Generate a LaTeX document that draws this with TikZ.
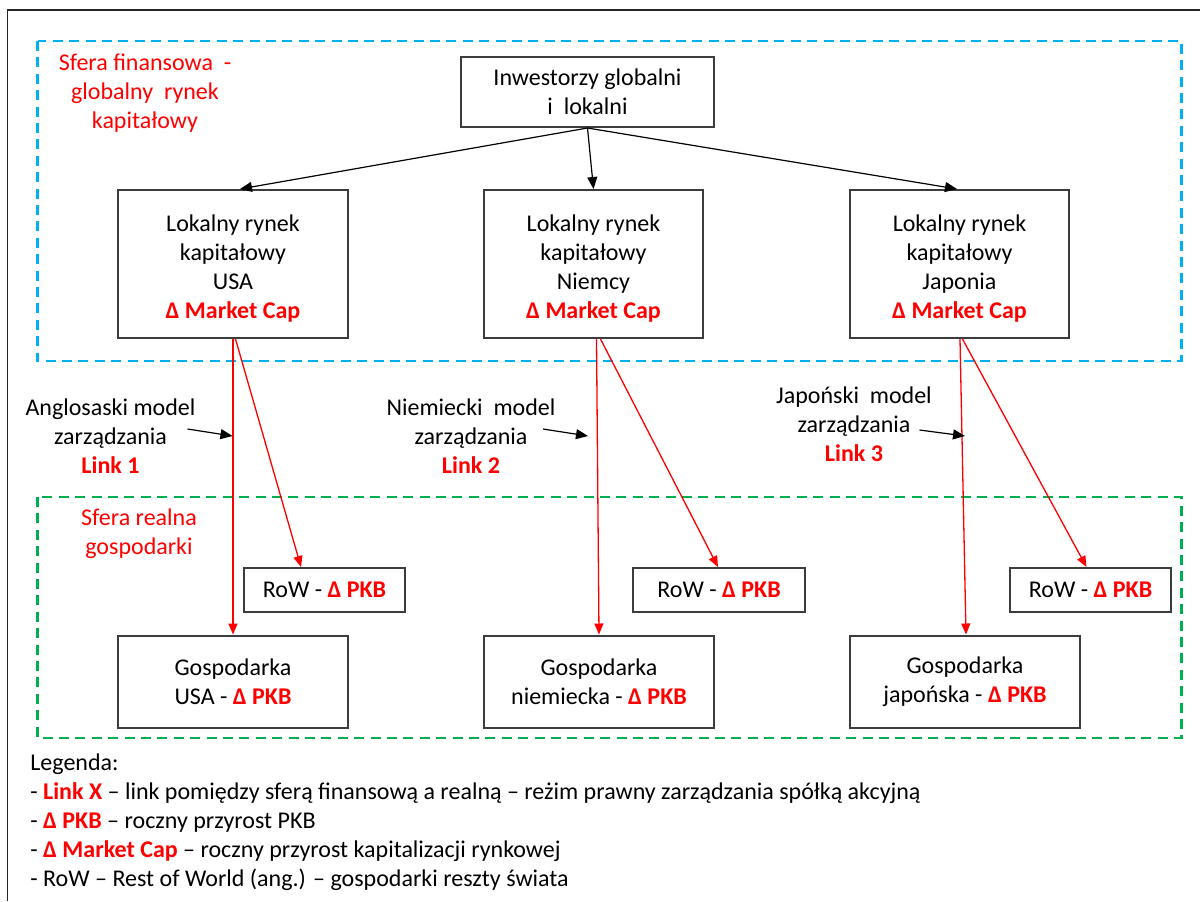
\documentclass[tikz,border=0pt]{standalone}
\usepackage{fontspec}
\setmainfont{Carlito}
\usetikzlibrary{arrows.meta,calc}
\definecolor{rd}{RGB}{255,0,0}
\definecolor{bl}{RGB}{0,176,240}
\definecolor{gr}{RGB}{0,176,80}
\definecolor{bx}{RGB}{60,60,60}
\newcommand{\rb}[1]{\textcolor{rd}{\bfseries #1}}
\newcommand{\topst}{\rule{0pt}{12.4pt}}
\begin{document}
\begin{tikzpicture}[x=0.5pt,y=-0.5pt,
  every node/.style={font=\fontsize{12}{14.5}\selectfont, inner sep=0pt},
  box/.style={draw=bx, line width=1pt, align=center, fill=white},
  lbl/.style={align=center},
  redlbl/.style={align=center, text=rd},
  blarr/.style={-{Triangle[length=6pt,width=5pt]}, line width=0.6pt, black},
  redarr/.style={-{Triangle[length=5.5pt,width=4.5pt]}, line width=0.65pt, rd},
  zone/.style={line width=1.3pt, dash pattern=on 5pt off 3.2pt}]
\useasboundingbox (0,0) rectangle (1200,901);
% outer frame
\draw[line width=0.8pt, black!85] (7.5,901) -- (7.5,10) -- (1200,10);
% zones
\draw[zone, bl] (37.5,41) rectangle (1181.5,361);
\draw[zone, gr] (37.5,497) rectangle (1181.5,738);
\node[redlbl] (sfin) at (145,93) {Sfera finansowa~ -\\globalny~ rynek\\kapitałowy};
\node[redlbl] (sreal) at (139,534) {Sfera realna\\gospodarki};
% boxes
\node[box, minimum width=126.5pt, minimum height=35pt] (inv) at (587.5,92) {Inwestorzy globalni\\i~ lokalni};
\node[box, minimum width=115pt, minimum height=74pt] (usa) at (233,264) {\topst Lokalny rynek\\kapitałowy\\USA\\\rb{Δ Market Cap}};
\node[box, minimum width=109.5pt, minimum height=74pt] (nie) at (593.5,264) {\topst Lokalny rynek\\kapitałowy\\Niemcy\\\rb{Δ Market Cap}};
\node[box, minimum width=109.5pt, minimum height=74pt] (jap) at (959.5,264) {\topst Lokalny rynek\\kapitałowy\\Japonia\\\rb{Δ Market Cap}};
\node[box, minimum width=80.5pt, minimum height=22pt] (rowU) at (324.5,590) {RoW - \rb{Δ PKB}};
\node[box, minimum width=86pt, minimum height=22pt] (rowN) at (719,590) {RoW - \rb{Δ PKB}};
\node[box, minimum width=80.5pt, minimum height=22pt] (rowJ) at (1090.5,590) {RoW - \rb{Δ PKB}};
\node[box, minimum width=115pt, minimum height=46pt] (gU) at (233,681.5) {Gospodarka\\USA - \rb{Δ PKB}};
\node[box, minimum width=115pt, minimum height=46pt] (gN) at (599,681.5) {Gospodarka\\niemiecka - \rb{Δ PKB}};
\node[box, minimum width=115pt, minimum height=46pt] (gJ) at (965,681.5) {Gospodarka\\japońska - \rb{Δ PKB}};
% top arrows
\draw[blarr] (inv.south) -- ($(usa.north)+(7,0)$);
\draw[blarr] (inv.south) -- (nie.north);
\draw[blarr] (inv.south) -- ($(jap.north)+(-2.5,0)$);
% red arrows
\draw[redarr] (usa.south) -- (gU.north);
\draw[redarr] ($(usa.south)+(2.5,0)$) -- ($(rowU.north)+(-23.5,0)$);
\draw[redarr] ($(nie.south)+(3,0)$) -- (gN.north);
\draw[redarr] ($(nie.south)+(7,0)$) -- ($(rowN.north)+(-1,0)$);
\draw[redarr] ($(jap.south)+(0.5,0)$) -- ($(gJ.north)+(1,0)$);
\draw[redarr] ($(jap.south)+(3,0)$) -- ($(rowJ.north)+(-4,0)$);
% link labels
\node[lbl] (l1) at (110.5,436) {Anglosaski model\\zarządzania\\\rb{Link 1}};
\node[lbl] (l2) at (471,436) {Niemiecki~ model\\zarządzania\\\rb{Link 2}};
\node[lbl] (l3) at (854,424) {Japoński~ model\\zarządzania\\\rb{Link 3}};
\coordinate (a1s) at (187.5,429); \coordinate (a1e) at (232.5,436);
\coordinate (a2s) at (543,429);   \coordinate (a2e) at (588,436);
\coordinate (a3s) at (919.5,430); \coordinate (a3e) at (965,436);
\draw[blarr] (a1s) -- (a1e);
\draw[blarr] (a2s) -- (a2e);
\draw[blarr] (a3s) -- (a3e);
% legend
\node[align=left, anchor=north west] (leg) at (30,753) {Legenda:\\
- \rb{Link X} – link pomiędzy sferą finansową a realną – reżim prawny zarządzania spółką akcyjną\\
- \rb{Δ PKB} – roczny przyrost PKB\\
- \rb{Δ Market Cap} – roczny przyrost kapitalizacji rynkowej\\
- RoW – Rest of World (ang.) – gospodarki reszty świata};
\end{tikzpicture}
\end{document}
